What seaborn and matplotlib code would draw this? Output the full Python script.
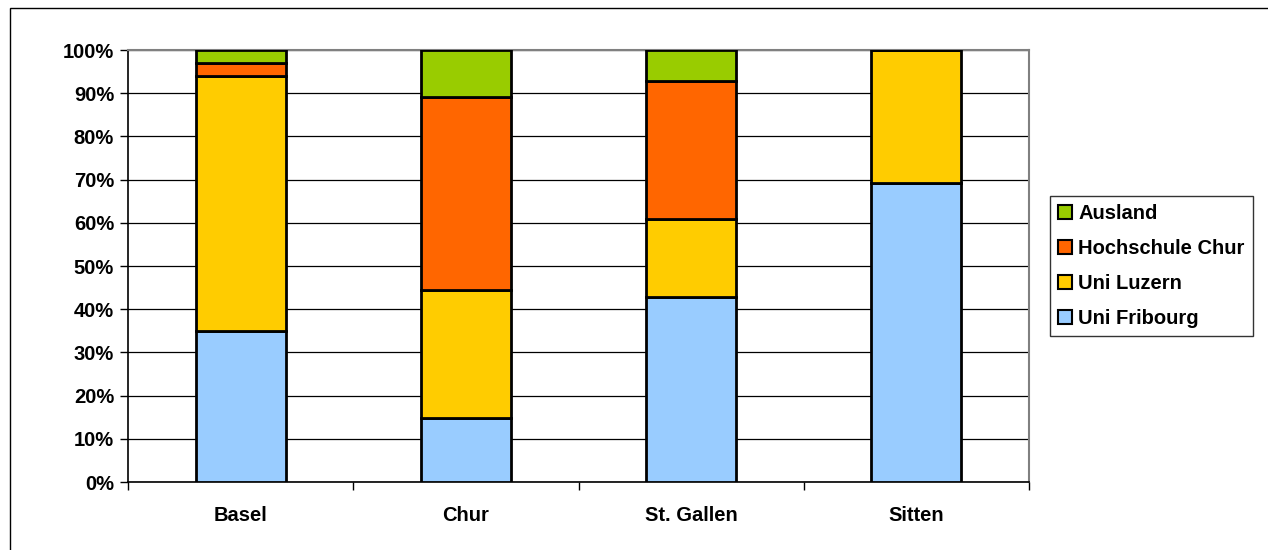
import matplotlib
matplotlib.use("Agg")
import matplotlib.pyplot as plt
from matplotlib.patches import Rectangle
from matplotlib.ticker import FixedLocator, PercentFormatter
import seaborn as sns
import numpy as np

cities = ["Basel", "Chur", "St. Gallen", "Sitten"]
series = ["Uni Fribourg", "Uni Luzern", "Hochschule Chur", "Ausland"]
uni_fribourg = [35.0, 14.8, 42.9, 69.2]
uni_luzern = [59.0, 29.7, 17.9, 30.8]
hochschule_chur = [3.0, 44.6, 32.1, 0.0]
ausland = [3.0, 10.9, 7.1, 0.0]
colors = ["#99CCFF", "#FFCC00", "#FF6600", "#99CC00"]

sns.set_style("white")
plt.rcParams["font.family"] = ["Liberation Sans", "DejaVu Sans"]
plt.rcParams["font.weight"] = "bold"
plt.rcParams["text.color"] = "black"
plt.rcParams["xtick.color"] = "black"
plt.rcParams["ytick.color"] = "black"

fig = plt.figure(figsize=(12.68, 5.5), dpi=100)
ax = fig.add_axes([128 / 1268, 1 - 482 / 550, (1029 - 128) / 1268, (482 - 50) / 550])

bottom = np.zeros(len(cities))
handles = []
for name, vals, col in zip(series, [uni_fribourg, uni_luzern, hochschule_chur, ausland], colors):
    vals = np.array(vals)
    sns.barplot(x=cities, y=vals, bottom=bottom, color=col, saturation=1,
                edgecolor="black", linewidth=2, width=0.4, ax=ax, zorder=3)
    handles.append(Rectangle((0, 0), 1, 1, facecolor=col, edgecolor="black", linewidth=1.5))
    bottom = bottom + vals

ax.set_ylim(0, 100)
ax.set_xlim(-0.5, len(cities) - 0.5)
ax.set_yticks(np.arange(0, 101, 10))
ax.yaxis.set_major_formatter(PercentFormatter(decimals=0))
ax.grid(axis="y", color="black", linewidth=0.9, zorder=0)
ax.set_axisbelow(True)

# ticks between categories, labels at centres
ax.xaxis.set_major_locator(FixedLocator(np.arange(-0.5, len(cities), 1.0)))
ax.xaxis.set_minor_locator(FixedLocator(np.arange(len(cities))))
ax.set_xticklabels([""] * (len(cities) + 1))
ax.set_xticklabels(cities, minor=True)
ax.tick_params(axis="x", which="major", direction="out", length=6, width=1, color="black", bottom=True)
ax.tick_params(axis="x", which="minor", length=0, pad=17, labelsize=14.5, labelcolor="black")
ax.tick_params(axis="y", direction="out", length=6, width=1, color="black", left=True,
               labelsize=14.5, pad=4, labelcolor="black")
for lab in ax.get_xticklabels(minor=True) + ax.get_yticklabels():
    lab.set_fontweight("bold")

for side in ["left", "bottom"]:
    ax.spines[side].set_color("black")
    ax.spines[side].set_linewidth(1.2)
for side in ["top", "right"]:
    ax.spines[side].set_color("#808080")
    ax.spines[side].set_linewidth(1.5)
ax.set_xlabel("")
ax.set_ylabel("")

leg = fig.legend(handles[::-1], series[::-1], loc="upper left",
                 bbox_to_anchor=(1050 / 1268, 1 - 196 / 550), borderaxespad=0,
                 frameon=True, fancybox=False, edgecolor="black",
                 handlelength=0.7, handleheight=0.7, handletextpad=0.3,
                 labelspacing=0.8, borderpad=0.4,
                 prop={"size": 14.5, "weight": "bold"})
leg.get_frame().set_linewidth(1)
for t in leg.get_texts():
    t.set_color("black")

fig.patches.append(Rectangle((10 / 1268, -0.05), 1.1, 1 - 8 / 550 + 0.05,
                             transform=fig.transFigure, fill=False,
                             edgecolor="black", linewidth=1))

fig.savefig("out.png", dpi=100)
